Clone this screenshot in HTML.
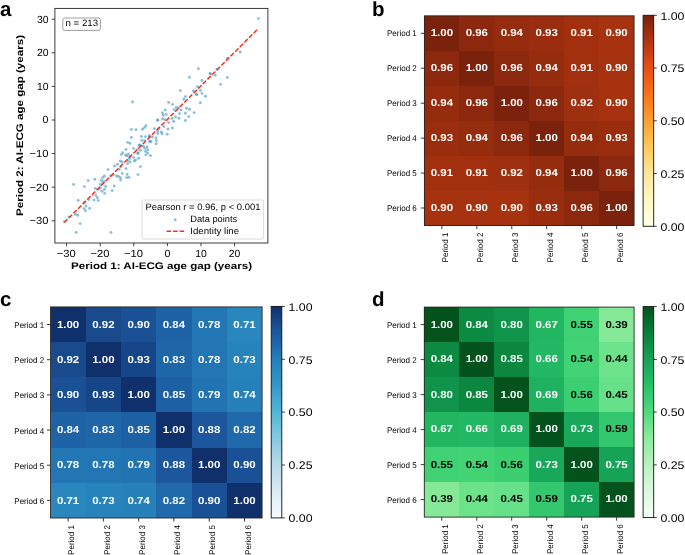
<!DOCTYPE html>
<html><head><meta charset="utf-8"><title>figure</title>
<style>
html,body{margin:0;padding:0;background:#fff;}
body{width:685px;height:555px;overflow:hidden;}
svg{display:block;font-family:"Liberation Sans",sans-serif;will-change:transform;text-rendering:geometricPrecision;}
</style></head><body>
<svg width="685" height="555" viewBox="0 0 685 555">
<rect width="685" height="555" fill="#fff"/>
<text x="0" y="15.6" font-size="20.5" font-weight="bold">a</text>
<text x="372" y="15.6" font-size="20.5" font-weight="bold">b</text>
<text x="0" y="306.4" font-size="20.5" font-weight="bold">c</text>
<text x="372" y="306.2" font-size="20.5" font-weight="bold">d</text>
<g fill="#3f97c6" fill-opacity="0.62">
<circle cx="258.4" cy="18.6" r="1.45"/>
<circle cx="240.2" cy="52.0" r="1.45"/>
<circle cx="227.6" cy="58.2" r="1.45"/>
<circle cx="227.4" cy="77.4" r="1.45"/>
<circle cx="220.6" cy="84.4" r="1.45"/>
<circle cx="198.4" cy="68.8" r="1.45"/>
<circle cx="189.4" cy="77.2" r="1.45"/>
<circle cx="210.4" cy="73.4" r="1.45"/>
<circle cx="215.2" cy="75.2" r="1.45"/>
<circle cx="217.0" cy="69.2" r="1.45"/>
<circle cx="202.0" cy="80.4" r="1.45"/>
<circle cx="197.4" cy="86.6" r="1.45"/>
<circle cx="180.4" cy="90.6" r="1.45"/>
<circle cx="193.4" cy="91.0" r="1.45"/>
<circle cx="200.6" cy="90.4" r="1.45"/>
<circle cx="196.4" cy="94.4" r="1.45"/>
<circle cx="202.0" cy="93.6" r="1.45"/>
<circle cx="205.6" cy="96.2" r="1.45"/>
<circle cx="185.4" cy="96.6" r="1.45"/>
<circle cx="183.8" cy="99.2" r="1.45"/>
<circle cx="168.6" cy="102.4" r="1.45"/>
<circle cx="172.6" cy="104.4" r="1.45"/>
<circle cx="200.4" cy="102.8" r="1.45"/>
<circle cx="176.2" cy="107.4" r="1.45"/>
<circle cx="186.6" cy="108.2" r="1.45"/>
<circle cx="189.6" cy="109.2" r="1.45"/>
<circle cx="165.2" cy="110.0" r="1.45"/>
<circle cx="174.2" cy="109.6" r="1.45"/>
<circle cx="181.0" cy="110.0" r="1.45"/>
<circle cx="178.4" cy="108.0" r="1.45"/>
<circle cx="194.2" cy="112.6" r="1.45"/>
<circle cx="162.4" cy="113.0" r="1.45"/>
<circle cx="166.2" cy="114.4" r="1.45"/>
<circle cx="163.2" cy="115.2" r="1.45"/>
<circle cx="179.6" cy="113.6" r="1.45"/>
<circle cx="185.4" cy="113.2" r="1.45"/>
<circle cx="188.8" cy="116.6" r="1.45"/>
<circle cx="175.6" cy="117.0" r="1.45"/>
<circle cx="179.0" cy="118.2" r="1.45"/>
<circle cx="172.2" cy="118.4" r="1.45"/>
<circle cx="162.6" cy="119.0" r="1.45"/>
<circle cx="165.0" cy="119.6" r="1.45"/>
<circle cx="157.6" cy="120.0" r="1.45"/>
<circle cx="185.4" cy="120.4" r="1.45"/>
<circle cx="173.6" cy="121.2" r="1.45"/>
<circle cx="168.6" cy="122.6" r="1.45"/>
<circle cx="146.0" cy="125.6" r="1.45"/>
<circle cx="144.6" cy="127.4" r="1.45"/>
<circle cx="142.6" cy="129.2" r="1.45"/>
<circle cx="154.4" cy="128.6" r="1.45"/>
<circle cx="164.0" cy="126.6" r="1.45"/>
<circle cx="172.4" cy="128.0" r="1.45"/>
<circle cx="168.0" cy="129.0" r="1.45"/>
<circle cx="159.0" cy="128.4" r="1.45"/>
<circle cx="157.6" cy="131.0" r="1.45"/>
<circle cx="161.4" cy="132.0" r="1.45"/>
<circle cx="157.8" cy="133.4" r="1.45"/>
<circle cx="162.0" cy="133.8" r="1.45"/>
<circle cx="167.2" cy="134.2" r="1.45"/>
<circle cx="141.4" cy="136.4" r="1.45"/>
<circle cx="145.4" cy="136.6" r="1.45"/>
<circle cx="149.4" cy="135.6" r="1.45"/>
<circle cx="152.4" cy="137.0" r="1.45"/>
<circle cx="156.0" cy="138.0" r="1.45"/>
<circle cx="141.8" cy="140.4" r="1.45"/>
<circle cx="144.6" cy="140.6" r="1.45"/>
<circle cx="156.4" cy="140.6" r="1.45"/>
<circle cx="149.6" cy="141.6" r="1.45"/>
<circle cx="156.2" cy="143.8" r="1.45"/>
<circle cx="139.4" cy="145.2" r="1.45"/>
<circle cx="141.4" cy="146.0" r="1.45"/>
<circle cx="140.4" cy="150.4" r="1.45"/>
<circle cx="138.0" cy="153.2" r="1.45"/>
<circle cx="150.4" cy="155.6" r="1.45"/>
<circle cx="138.6" cy="158.2" r="1.45"/>
<circle cx="140.4" cy="166.6" r="1.45"/>
<circle cx="138.0" cy="174.6" r="1.45"/>
<circle cx="64.4" cy="221.6" r="1.45"/>
<circle cx="69.0" cy="217.0" r="1.45"/>
<circle cx="76.2" cy="232.4" r="1.45"/>
<circle cx="111.0" cy="232.4" r="1.45"/>
<circle cx="80.2" cy="223.6" r="1.45"/>
<circle cx="77.8" cy="215.4" r="1.45"/>
<circle cx="75.4" cy="214.4" r="1.45"/>
<circle cx="85.4" cy="210.8" r="1.45"/>
<circle cx="84.0" cy="208.6" r="1.45"/>
<circle cx="89.6" cy="208.4" r="1.45"/>
<circle cx="86.0" cy="206.0" r="1.45"/>
<circle cx="84.4" cy="202.4" r="1.45"/>
<circle cx="78.2" cy="200.4" r="1.45"/>
<circle cx="88.6" cy="199.6" r="1.45"/>
<circle cx="94.0" cy="200.0" r="1.45"/>
<circle cx="98.2" cy="200.6" r="1.45"/>
<circle cx="97.4" cy="197.8" r="1.45"/>
<circle cx="95.8" cy="195.4" r="1.45"/>
<circle cx="73.6" cy="184.4" r="1.45"/>
<circle cx="84.4" cy="186.6" r="1.45"/>
<circle cx="88.2" cy="180.6" r="1.45"/>
<circle cx="94.8" cy="179.2" r="1.45"/>
<circle cx="95.4" cy="188.4" r="1.45"/>
<circle cx="99.0" cy="189.2" r="1.45"/>
<circle cx="100.4" cy="187.6" r="1.45"/>
<circle cx="104.4" cy="189.4" r="1.45"/>
<circle cx="105.6" cy="186.4" r="1.45"/>
<circle cx="102.0" cy="191.2" r="1.45"/>
<circle cx="104.6" cy="193.4" r="1.45"/>
<circle cx="112.2" cy="190.6" r="1.45"/>
<circle cx="114.2" cy="186.0" r="1.45"/>
<circle cx="100.4" cy="184.4" r="1.45"/>
<circle cx="102.6" cy="182.6" r="1.45"/>
<circle cx="104.4" cy="181.4" r="1.45"/>
<circle cx="101.4" cy="180.2" r="1.45"/>
<circle cx="102.6" cy="177.6" r="1.45"/>
<circle cx="104.4" cy="176.0" r="1.45"/>
<circle cx="108.0" cy="169.6" r="1.45"/>
<circle cx="110.6" cy="176.0" r="1.45"/>
<circle cx="113.4" cy="175.0" r="1.45"/>
<circle cx="116.6" cy="176.0" r="1.45"/>
<circle cx="118.4" cy="176.4" r="1.45"/>
<circle cx="120.4" cy="177.6" r="1.45"/>
<circle cx="120.6" cy="180.0" r="1.45"/>
<circle cx="126.6" cy="177.6" r="1.45"/>
<circle cx="129.0" cy="177.4" r="1.45"/>
<circle cx="122.2" cy="173.4" r="1.45"/>
<circle cx="127.2" cy="174.4" r="1.45"/>
<circle cx="119.2" cy="169.4" r="1.45"/>
<circle cx="126.0" cy="168.6" r="1.45"/>
<circle cx="114.6" cy="166.0" r="1.45"/>
<circle cx="117.6" cy="164.2" r="1.45"/>
<circle cx="120.2" cy="161.0" r="1.45"/>
<circle cx="122.0" cy="162.0" r="1.45"/>
<circle cx="121.0" cy="166.4" r="1.45"/>
<circle cx="127.6" cy="163.6" r="1.45"/>
<circle cx="130.0" cy="162.0" r="1.45"/>
<circle cx="127.6" cy="160.6" r="1.45"/>
<circle cx="129.6" cy="158.6" r="1.45"/>
<circle cx="134.4" cy="161.0" r="1.45"/>
<circle cx="135.6" cy="160.0" r="1.45"/>
<circle cx="121.4" cy="154.4" r="1.45"/>
<circle cx="122.8" cy="152.6" r="1.45"/>
<circle cx="125.6" cy="155.0" r="1.45"/>
<circle cx="127.0" cy="156.0" r="1.45"/>
<circle cx="128.4" cy="154.0" r="1.45"/>
<circle cx="126.0" cy="149.4" r="1.45"/>
<circle cx="127.6" cy="142.4" r="1.45"/>
<circle cx="130.0" cy="143.4" r="1.45"/>
<circle cx="131.4" cy="137.4" r="1.45"/>
<circle cx="133.6" cy="148.6" r="1.45"/>
<circle cx="137.0" cy="150.0" r="1.45"/>
<circle cx="149.4" cy="137.0" r="1.45"/>
<circle cx="151.0" cy="141.6" r="1.45"/>
<circle cx="132.6" cy="102.0" r="1.45"/>
<circle cx="131.4" cy="129.4" r="1.45"/>
<circle cx="136.0" cy="129.8" r="1.45"/>
<circle cx="130.0" cy="156.4" r="1.45"/>
<circle cx="133.6" cy="157.4" r="1.45"/>
<circle cx="143.4" cy="146.2" r="1.45"/>
<circle cx="146.9" cy="147.0" r="1.45"/>
<circle cx="144.7" cy="148.4" r="1.45"/>
<circle cx="147.7" cy="149.7" r="1.45"/>
<circle cx="145.5" cy="151.4" r="1.45"/>
<circle cx="147.7" cy="153.0" r="1.45"/>
<circle cx="145.8" cy="154.9" r="1.45"/>
<circle cx="150.1" cy="141.4" r="1.45"/>
<circle cx="137.9" cy="153.2" r="1.45"/>
<circle cx="139.3" cy="144.9" r="1.45"/>
<circle cx="210.0" cy="73.9" r="1.45"/>
<circle cx="196.8" cy="94.6" r="1.45"/>
<circle cx="157.8" cy="120.2" r="1.45"/>
</g>
<line x1="64.2" y1="222.6" x2="257.4" y2="29.4" stroke="#ff2a1a" stroke-width="1.45" stroke-dasharray="4.7 1.834"/>
<rect x="54.9" y="8.4" width="212.99999999999997" height="234.6" fill="none" stroke="#262626" stroke-width="0.9"/>
<line x1="66.6" y1="243.0" x2="66.6" y2="246.2" stroke="#262626" stroke-width="0.9"/>
<text x="66.3" y="257.2" font-size="10.3" text-anchor="middle" textLength="19.0" lengthAdjust="spacingAndGlyphs">−30</text>
<line x1="100.2" y1="243.0" x2="100.2" y2="246.2" stroke="#262626" stroke-width="0.9"/>
<text x="99.9" y="257.2" font-size="10.3" text-anchor="middle" textLength="19.0" lengthAdjust="spacingAndGlyphs">−20</text>
<line x1="133.8" y1="243.0" x2="133.8" y2="246.2" stroke="#262626" stroke-width="0.9"/>
<text x="133.5" y="257.2" font-size="10.3" text-anchor="middle" textLength="19.0" lengthAdjust="spacingAndGlyphs">−10</text>
<line x1="167.4" y1="243.0" x2="167.4" y2="246.2" stroke="#262626" stroke-width="0.9"/>
<text x="167.4" y="257.2" font-size="10.3" text-anchor="middle" textLength="5.9" lengthAdjust="spacingAndGlyphs">0</text>
<line x1="201.0" y1="243.0" x2="201.0" y2="246.2" stroke="#262626" stroke-width="0.9"/>
<text x="201.0" y="257.2" font-size="10.3" text-anchor="middle" textLength="11.6" lengthAdjust="spacingAndGlyphs">10</text>
<line x1="234.6" y1="243.0" x2="234.6" y2="246.2" stroke="#262626" stroke-width="0.9"/>
<text x="234.6" y="257.2" font-size="10.3" text-anchor="middle" textLength="11.6" lengthAdjust="spacingAndGlyphs">20</text>
<line x1="51.8" y1="220.8" x2="54.9" y2="220.8" stroke="#262626" stroke-width="0.9"/>
<text x="48.5" y="224" font-size="10.3" text-anchor="end" textLength="19.0" lengthAdjust="spacingAndGlyphs">−30</text>
<line x1="51.8" y1="187.2" x2="54.9" y2="187.2" stroke="#262626" stroke-width="0.9"/>
<text x="48.5" y="191" font-size="10.3" text-anchor="end" textLength="19.0" lengthAdjust="spacingAndGlyphs">−20</text>
<line x1="51.8" y1="153.6" x2="54.9" y2="153.6" stroke="#262626" stroke-width="0.9"/>
<text x="48.5" y="157" font-size="10.3" text-anchor="end" textLength="19.0" lengthAdjust="spacingAndGlyphs">−10</text>
<line x1="51.8" y1="120.0" x2="54.9" y2="120.0" stroke="#262626" stroke-width="0.9"/>
<text x="48.5" y="123" font-size="10.3" text-anchor="end" textLength="5.9" lengthAdjust="spacingAndGlyphs">0</text>
<line x1="51.8" y1="86.4" x2="54.9" y2="86.4" stroke="#262626" stroke-width="0.9"/>
<text x="48.5" y="90" font-size="10.3" text-anchor="end" textLength="11.6" lengthAdjust="spacingAndGlyphs">10</text>
<line x1="51.8" y1="52.8" x2="54.9" y2="52.8" stroke="#262626" stroke-width="0.9"/>
<text x="48.5" y="56" font-size="10.3" text-anchor="end" textLength="11.6" lengthAdjust="spacingAndGlyphs">20</text>
<line x1="51.8" y1="19.2" x2="54.9" y2="19.2" stroke="#262626" stroke-width="0.9"/>
<text x="48.5" y="23" font-size="10.3" text-anchor="end" textLength="11.6" lengthAdjust="spacingAndGlyphs">30</text>
<text x="161.5" y="269.2" font-size="9.6" font-weight="bold" text-anchor="middle" textLength="181" lengthAdjust="spacingAndGlyphs">Period 1: AI-ECG age gap (years)</text>
<text x="0" y="0" font-size="9.6" font-weight="bold" text-anchor="middle" textLength="181" lengthAdjust="spacingAndGlyphs" transform="translate(22.6 125.5) rotate(-90)">Period 2: AI-ECG age gap (years)</text>
<rect x="62.8" y="18" width="37.6" height="12.4" rx="1.8" fill="#fff" stroke="#858585" stroke-width="0.8"/>
<text x="65.5" y="26.4" font-size="9.2" textLength="32.6" lengthAdjust="spacingAndGlyphs">n = 213</text>
<rect x="142" y="200" width="121.6" height="39" rx="1.6" fill="#fff" fill-opacity="0.8" stroke="#d0d0d0" stroke-width="0.8"/>
<text x="145.5" y="210" font-size="9.2" textLength="115" lengthAdjust="spacingAndGlyphs">Pearson r = 0.96, p &lt; 0.001</text>
<circle cx="175.2" cy="219.8" r="1.45" fill="#3f97c6" fill-opacity="0.62"/>
<text x="190.3" y="222" font-size="9.2" textLength="46.8" lengthAdjust="spacingAndGlyphs">Data points</text>
<line x1="166.6" y1="231.2" x2="184.2" y2="231.2" stroke="#ff2a1a" stroke-width="1.45" stroke-dasharray="4.55 1.95"/>
<text x="190.3" y="234" font-size="9.2" textLength="48.8" lengthAdjust="spacingAndGlyphs">Identity line</text>
<g shape-rendering="crispEdges">
<rect x="424.40" y="15.80" width="35.25" height="35.25" fill="#7a220b"/>
<rect x="459.35" y="15.80" width="35.25" height="35.25" fill="#8c280d"/>
<rect x="494.30" y="15.80" width="35.25" height="35.25" fill="#952c0e"/>
<rect x="529.25" y="15.80" width="35.25" height="35.25" fill="#992d0e"/>
<rect x="564.20" y="15.80" width="35.25" height="35.25" fill="#a2300f"/>
<rect x="599.15" y="15.80" width="35.25" height="35.25" fill="#a73210"/>
<rect x="424.40" y="50.75" width="35.25" height="35.25" fill="#8c280d"/>
<rect x="459.35" y="50.75" width="35.25" height="35.25" fill="#7a220b"/>
<rect x="494.30" y="50.75" width="35.25" height="35.25" fill="#8c280d"/>
<rect x="529.25" y="50.75" width="35.25" height="35.25" fill="#952c0e"/>
<rect x="564.20" y="50.75" width="35.25" height="35.25" fill="#a2300f"/>
<rect x="599.15" y="50.75" width="35.25" height="35.25" fill="#a73210"/>
<rect x="424.40" y="85.70" width="35.25" height="35.25" fill="#952c0e"/>
<rect x="459.35" y="85.70" width="35.25" height="35.25" fill="#8c280d"/>
<rect x="494.30" y="85.70" width="35.25" height="35.25" fill="#7a220b"/>
<rect x="529.25" y="85.70" width="35.25" height="35.25" fill="#8c280d"/>
<rect x="564.20" y="85.70" width="35.25" height="35.25" fill="#9e2f0f"/>
<rect x="599.15" y="85.70" width="35.25" height="35.25" fill="#a73210"/>
<rect x="424.40" y="120.65" width="35.25" height="35.25" fill="#992d0e"/>
<rect x="459.35" y="120.65" width="35.25" height="35.25" fill="#952c0e"/>
<rect x="494.30" y="120.65" width="35.25" height="35.25" fill="#8c280d"/>
<rect x="529.25" y="120.65" width="35.25" height="35.25" fill="#7a220b"/>
<rect x="564.20" y="120.65" width="35.25" height="35.25" fill="#952c0e"/>
<rect x="599.15" y="120.65" width="35.25" height="35.25" fill="#992d0e"/>
<rect x="424.40" y="155.60" width="35.25" height="35.25" fill="#a2300f"/>
<rect x="459.35" y="155.60" width="35.25" height="35.25" fill="#a2300f"/>
<rect x="494.30" y="155.60" width="35.25" height="35.25" fill="#9e2f0f"/>
<rect x="529.25" y="155.60" width="35.25" height="35.25" fill="#952c0e"/>
<rect x="564.20" y="155.60" width="35.25" height="35.25" fill="#7a220b"/>
<rect x="599.15" y="155.60" width="35.25" height="35.25" fill="#8c280d"/>
<rect x="424.40" y="190.55" width="35.25" height="35.25" fill="#a73210"/>
<rect x="459.35" y="190.55" width="35.25" height="35.25" fill="#a73210"/>
<rect x="494.30" y="190.55" width="35.25" height="35.25" fill="#a73210"/>
<rect x="529.25" y="190.55" width="35.25" height="35.25" fill="#992d0e"/>
<rect x="564.20" y="190.55" width="35.25" height="35.25" fill="#8c280d"/>
<rect x="599.15" y="190.55" width="35.25" height="35.25" fill="#7a220b"/>
</g>
<g font-weight="bold" font-size="10.1" text-anchor="middle">
<text x="441.9" y="36" fill="#fff" textLength="22.3" lengthAdjust="spacingAndGlyphs">1.00</text>
<text x="476.8" y="36" fill="#fff" textLength="22.3" lengthAdjust="spacingAndGlyphs">0.96</text>
<text x="511.8" y="36" fill="#fff" textLength="22.3" lengthAdjust="spacingAndGlyphs">0.94</text>
<text x="546.7" y="36" fill="#fff" textLength="22.3" lengthAdjust="spacingAndGlyphs">0.93</text>
<text x="581.7" y="36" fill="#fff" textLength="22.3" lengthAdjust="spacingAndGlyphs">0.91</text>
<text x="616.6" y="36" fill="#fff" textLength="22.3" lengthAdjust="spacingAndGlyphs">0.90</text>
<text x="441.9" y="71" fill="#fff" textLength="22.3" lengthAdjust="spacingAndGlyphs">0.96</text>
<text x="476.8" y="71" fill="#fff" textLength="22.3" lengthAdjust="spacingAndGlyphs">1.00</text>
<text x="511.8" y="71" fill="#fff" textLength="22.3" lengthAdjust="spacingAndGlyphs">0.96</text>
<text x="546.7" y="71" fill="#fff" textLength="22.3" lengthAdjust="spacingAndGlyphs">0.94</text>
<text x="581.7" y="71" fill="#fff" textLength="22.3" lengthAdjust="spacingAndGlyphs">0.91</text>
<text x="616.6" y="71" fill="#fff" textLength="22.3" lengthAdjust="spacingAndGlyphs">0.90</text>
<text x="441.9" y="106" fill="#fff" textLength="22.3" lengthAdjust="spacingAndGlyphs">0.94</text>
<text x="476.8" y="106" fill="#fff" textLength="22.3" lengthAdjust="spacingAndGlyphs">0.96</text>
<text x="511.8" y="106" fill="#fff" textLength="22.3" lengthAdjust="spacingAndGlyphs">1.00</text>
<text x="546.7" y="106" fill="#fff" textLength="22.3" lengthAdjust="spacingAndGlyphs">0.96</text>
<text x="581.7" y="106" fill="#fff" textLength="22.3" lengthAdjust="spacingAndGlyphs">0.92</text>
<text x="616.6" y="106" fill="#fff" textLength="22.3" lengthAdjust="spacingAndGlyphs">0.90</text>
<text x="441.9" y="141" fill="#fff" textLength="22.3" lengthAdjust="spacingAndGlyphs">0.93</text>
<text x="476.8" y="141" fill="#fff" textLength="22.3" lengthAdjust="spacingAndGlyphs">0.94</text>
<text x="511.8" y="141" fill="#fff" textLength="22.3" lengthAdjust="spacingAndGlyphs">0.96</text>
<text x="546.7" y="141" fill="#fff" textLength="22.3" lengthAdjust="spacingAndGlyphs">1.00</text>
<text x="581.7" y="141" fill="#fff" textLength="22.3" lengthAdjust="spacingAndGlyphs">0.94</text>
<text x="616.6" y="141" fill="#fff" textLength="22.3" lengthAdjust="spacingAndGlyphs">0.93</text>
<text x="441.9" y="176" fill="#fff" textLength="22.3" lengthAdjust="spacingAndGlyphs">0.91</text>
<text x="476.8" y="176" fill="#fff" textLength="22.3" lengthAdjust="spacingAndGlyphs">0.91</text>
<text x="511.8" y="176" fill="#fff" textLength="22.3" lengthAdjust="spacingAndGlyphs">0.92</text>
<text x="546.7" y="176" fill="#fff" textLength="22.3" lengthAdjust="spacingAndGlyphs">0.94</text>
<text x="581.7" y="176" fill="#fff" textLength="22.3" lengthAdjust="spacingAndGlyphs">1.00</text>
<text x="616.6" y="176" fill="#fff" textLength="22.3" lengthAdjust="spacingAndGlyphs">0.96</text>
<text x="441.9" y="211" fill="#fff" textLength="22.3" lengthAdjust="spacingAndGlyphs">0.90</text>
<text x="476.8" y="211" fill="#fff" textLength="22.3" lengthAdjust="spacingAndGlyphs">0.90</text>
<text x="511.8" y="211" fill="#fff" textLength="22.3" lengthAdjust="spacingAndGlyphs">0.90</text>
<text x="546.7" y="211" fill="#fff" textLength="22.3" lengthAdjust="spacingAndGlyphs">0.93</text>
<text x="581.7" y="211" fill="#fff" textLength="22.3" lengthAdjust="spacingAndGlyphs">0.96</text>
<text x="616.6" y="211" fill="#fff" textLength="22.3" lengthAdjust="spacingAndGlyphs">1.00</text>
</g>
<rect x="424.4" y="15.8" width="209.70000000000005" height="209.7" fill="none" stroke="#262626" stroke-width="0.9"/>
<line x1="420.79999999999995" y1="33.3" x2="424.4" y2="33.3" stroke="#262626" stroke-width="0.9"/>
<line x1="441.9" y1="225.5" x2="441.9" y2="229.1" stroke="#262626" stroke-width="0.9"/>
<text x="416.8" y="36" font-size="8.3" text-anchor="end" textLength="29.8" lengthAdjust="spacingAndGlyphs">Period 1</text>
<text x="0" y="0" font-size="8.3" textLength="29.8" lengthAdjust="spacingAndGlyphs" transform="translate(448.0 262.4) rotate(-90)">Period 1</text>
<line x1="420.79999999999995" y1="68.2" x2="424.4" y2="68.2" stroke="#262626" stroke-width="0.9"/>
<line x1="476.8" y1="225.5" x2="476.8" y2="229.1" stroke="#262626" stroke-width="0.9"/>
<text x="416.8" y="71" font-size="8.3" text-anchor="end" textLength="29.8" lengthAdjust="spacingAndGlyphs">Period 2</text>
<text x="0" y="0" font-size="8.3" textLength="29.8" lengthAdjust="spacingAndGlyphs" transform="translate(482.9 262.4) rotate(-90)">Period 2</text>
<line x1="420.79999999999995" y1="103.2" x2="424.4" y2="103.2" stroke="#262626" stroke-width="0.9"/>
<line x1="511.8" y1="225.5" x2="511.8" y2="229.1" stroke="#262626" stroke-width="0.9"/>
<text x="416.8" y="106" font-size="8.3" text-anchor="end" textLength="29.8" lengthAdjust="spacingAndGlyphs">Period 3</text>
<text x="0" y="0" font-size="8.3" textLength="29.8" lengthAdjust="spacingAndGlyphs" transform="translate(517.9 262.4) rotate(-90)">Period 3</text>
<line x1="420.79999999999995" y1="138.1" x2="424.4" y2="138.1" stroke="#262626" stroke-width="0.9"/>
<line x1="546.7" y1="225.5" x2="546.7" y2="229.1" stroke="#262626" stroke-width="0.9"/>
<text x="416.8" y="141" font-size="8.3" text-anchor="end" textLength="29.8" lengthAdjust="spacingAndGlyphs">Period 4</text>
<text x="0" y="0" font-size="8.3" textLength="29.8" lengthAdjust="spacingAndGlyphs" transform="translate(552.8 262.4) rotate(-90)">Period 4</text>
<line x1="420.79999999999995" y1="173.1" x2="424.4" y2="173.1" stroke="#262626" stroke-width="0.9"/>
<line x1="581.7" y1="225.5" x2="581.7" y2="229.1" stroke="#262626" stroke-width="0.9"/>
<text x="416.8" y="176" font-size="8.3" text-anchor="end" textLength="29.8" lengthAdjust="spacingAndGlyphs">Period 5</text>
<text x="0" y="0" font-size="8.3" textLength="29.8" lengthAdjust="spacingAndGlyphs" transform="translate(587.8 262.4) rotate(-90)">Period 5</text>
<line x1="420.79999999999995" y1="208.0" x2="424.4" y2="208.0" stroke="#262626" stroke-width="0.9"/>
<line x1="616.6" y1="225.5" x2="616.6" y2="229.1" stroke="#262626" stroke-width="0.9"/>
<text x="416.8" y="211" font-size="8.3" text-anchor="end" textLength="29.8" lengthAdjust="spacingAndGlyphs">Period 6</text>
<text x="0" y="0" font-size="8.3" textLength="29.8" lengthAdjust="spacingAndGlyphs" transform="translate(622.7 262.4) rotate(-90)">Period 6</text>
<defs><linearGradient id="gb" x1="0" y1="1" x2="0" y2="0">
<stop offset="0.0000" stop-color="#ffffe5"/>
<stop offset="0.0312" stop-color="#fffddd"/>
<stop offset="0.0625" stop-color="#fffcd4"/>
<stop offset="0.0938" stop-color="#fffacc"/>
<stop offset="0.1250" stop-color="#fff8c4"/>
<stop offset="0.1562" stop-color="#fff4ba"/>
<stop offset="0.1875" stop-color="#fef0b0"/>
<stop offset="0.2188" stop-color="#feeba5"/>
<stop offset="0.2500" stop-color="#fee79b"/>
<stop offset="0.2812" stop-color="#fee08b"/>
<stop offset="0.3125" stop-color="#fed87a"/>
<stop offset="0.3438" stop-color="#fed06a"/>
<stop offset="0.3750" stop-color="#fec95a"/>
<stop offset="0.4062" stop-color="#febe50"/>
<stop offset="0.4375" stop-color="#feb445"/>
<stop offset="0.4688" stop-color="#fdaa3a"/>
<stop offset="0.5000" stop-color="#fd9f30"/>
<stop offset="0.5312" stop-color="#fc942b"/>
<stop offset="0.5625" stop-color="#fb8826"/>
<stop offset="0.5938" stop-color="#fa7d20"/>
<stop offset="0.6250" stop-color="#f9721b"/>
<stop offset="0.6562" stop-color="#f4691a"/>
<stop offset="0.6875" stop-color="#f06018"/>
<stop offset="0.7188" stop-color="#eb5816"/>
<stop offset="0.7500" stop-color="#e64f15"/>
<stop offset="0.7812" stop-color="#d94914"/>
<stop offset="0.8125" stop-color="#cc4213"/>
<stop offset="0.8438" stop-color="#bf3c12"/>
<stop offset="0.8750" stop-color="#b23611"/>
<stop offset="0.9062" stop-color="#a43110"/>
<stop offset="0.9375" stop-color="#962c0e"/>
<stop offset="0.9688" stop-color="#88270c"/>
<stop offset="1.0000" stop-color="#7a220b"/>
</linearGradient></defs>
<rect x="643.1" y="15.3" width="10.6" height="211.0" fill="url(#gb)" stroke="#111" stroke-width="0.9"/>
<line x1="653.7" y1="226.3" x2="656.8000000000001" y2="226.3" stroke="#262626" stroke-width="0.9"/>
<text x="660.4" y="231" font-size="11.1" textLength="24.0" lengthAdjust="spacingAndGlyphs">0.00</text>
<line x1="653.7" y1="173.6" x2="656.8000000000001" y2="173.6" stroke="#262626" stroke-width="0.9"/>
<text x="660.4" y="178" font-size="11.1" textLength="24.0" lengthAdjust="spacingAndGlyphs">0.25</text>
<line x1="653.7" y1="120.8" x2="656.8000000000001" y2="120.8" stroke="#262626" stroke-width="0.9"/>
<text x="660.4" y="125" font-size="11.1" textLength="24.0" lengthAdjust="spacingAndGlyphs">0.50</text>
<line x1="653.7" y1="68.1" x2="656.8000000000001" y2="68.1" stroke="#262626" stroke-width="0.9"/>
<text x="660.4" y="72" font-size="11.1" textLength="24.0" lengthAdjust="spacingAndGlyphs">0.75</text>
<line x1="653.7" y1="15.3" x2="656.8000000000001" y2="15.3" stroke="#262626" stroke-width="0.9"/>
<text x="660.4" y="20" font-size="11.1" textLength="24.0" lengthAdjust="spacingAndGlyphs">1.00</text>
<g shape-rendering="crispEdges">
<rect x="50.50" y="306.90" width="35.57" height="35.48" fill="#10306b"/>
<rect x="85.77" y="306.90" width="35.57" height="35.48" fill="#184a8c"/>
<rect x="121.03" y="306.90" width="35.57" height="35.48" fill="#1a5095"/>
<rect x="156.30" y="306.90" width="35.57" height="35.48" fill="#1f63a7"/>
<rect x="191.57" y="306.90" width="35.57" height="35.48" fill="#2376b4"/>
<rect x="226.83" y="306.90" width="35.57" height="35.48" fill="#2987be"/>
<rect x="50.50" y="342.08" width="35.57" height="35.48" fill="#184a8c"/>
<rect x="85.77" y="342.08" width="35.57" height="35.48" fill="#10306b"/>
<rect x="121.03" y="342.08" width="35.57" height="35.48" fill="#174688"/>
<rect x="156.30" y="342.08" width="35.57" height="35.48" fill="#1f66a9"/>
<rect x="191.57" y="342.08" width="35.57" height="35.48" fill="#2376b4"/>
<rect x="226.83" y="342.08" width="35.57" height="35.48" fill="#2783bc"/>
<rect x="50.50" y="377.27" width="35.57" height="35.48" fill="#1a5095"/>
<rect x="85.77" y="377.27" width="35.57" height="35.48" fill="#174688"/>
<rect x="121.03" y="377.27" width="35.57" height="35.48" fill="#10306b"/>
<rect x="156.30" y="377.27" width="35.57" height="35.48" fill="#1e60a4"/>
<rect x="191.57" y="377.27" width="35.57" height="35.48" fill="#2273b1"/>
<rect x="226.83" y="377.27" width="35.57" height="35.48" fill="#2681bb"/>
<rect x="50.50" y="412.45" width="35.57" height="35.48" fill="#1f63a7"/>
<rect x="85.77" y="412.45" width="35.57" height="35.48" fill="#1f66a9"/>
<rect x="121.03" y="412.45" width="35.57" height="35.48" fill="#1e60a4"/>
<rect x="156.30" y="412.45" width="35.57" height="35.48" fill="#10306b"/>
<rect x="191.57" y="412.45" width="35.57" height="35.48" fill="#1c569d"/>
<rect x="226.83" y="412.45" width="35.57" height="35.48" fill="#2069ab"/>
<rect x="50.50" y="447.63" width="35.57" height="35.48" fill="#2376b4"/>
<rect x="85.77" y="447.63" width="35.57" height="35.48" fill="#2376b4"/>
<rect x="121.03" y="447.63" width="35.57" height="35.48" fill="#2273b1"/>
<rect x="156.30" y="447.63" width="35.57" height="35.48" fill="#1c569d"/>
<rect x="191.57" y="447.63" width="35.57" height="35.48" fill="#10306b"/>
<rect x="226.83" y="447.63" width="35.57" height="35.48" fill="#1a5095"/>
<rect x="50.50" y="482.82" width="35.57" height="35.48" fill="#2987be"/>
<rect x="85.77" y="482.82" width="35.57" height="35.48" fill="#2783bc"/>
<rect x="121.03" y="482.82" width="35.57" height="35.48" fill="#2681bb"/>
<rect x="156.30" y="482.82" width="35.57" height="35.48" fill="#2069ab"/>
<rect x="191.57" y="482.82" width="35.57" height="35.48" fill="#1a5095"/>
<rect x="226.83" y="482.82" width="35.57" height="35.48" fill="#10306b"/>
</g>
<g font-weight="bold" font-size="10.1" text-anchor="middle">
<text x="68.1" y="328" fill="#fff" textLength="22.3" lengthAdjust="spacingAndGlyphs">1.00</text>
<text x="103.4" y="328" fill="#fff" textLength="22.3" lengthAdjust="spacingAndGlyphs">0.92</text>
<text x="138.7" y="328" fill="#fff" textLength="22.3" lengthAdjust="spacingAndGlyphs">0.90</text>
<text x="173.9" y="328" fill="#fff" textLength="22.3" lengthAdjust="spacingAndGlyphs">0.84</text>
<text x="209.2" y="328" fill="#fff" textLength="22.3" lengthAdjust="spacingAndGlyphs">0.78</text>
<text x="244.5" y="328" fill="#fff" textLength="22.3" lengthAdjust="spacingAndGlyphs">0.71</text>
<text x="68.1" y="363" fill="#fff" textLength="22.3" lengthAdjust="spacingAndGlyphs">0.92</text>
<text x="103.4" y="363" fill="#fff" textLength="22.3" lengthAdjust="spacingAndGlyphs">1.00</text>
<text x="138.7" y="363" fill="#fff" textLength="22.3" lengthAdjust="spacingAndGlyphs">0.93</text>
<text x="173.9" y="363" fill="#fff" textLength="22.3" lengthAdjust="spacingAndGlyphs">0.83</text>
<text x="209.2" y="363" fill="#fff" textLength="22.3" lengthAdjust="spacingAndGlyphs">0.78</text>
<text x="244.5" y="363" fill="#fff" textLength="22.3" lengthAdjust="spacingAndGlyphs">0.73</text>
<text x="68.1" y="398" fill="#fff" textLength="22.3" lengthAdjust="spacingAndGlyphs">0.90</text>
<text x="103.4" y="398" fill="#fff" textLength="22.3" lengthAdjust="spacingAndGlyphs">0.93</text>
<text x="138.7" y="398" fill="#fff" textLength="22.3" lengthAdjust="spacingAndGlyphs">1.00</text>
<text x="173.9" y="398" fill="#fff" textLength="22.3" lengthAdjust="spacingAndGlyphs">0.85</text>
<text x="209.2" y="398" fill="#fff" textLength="22.3" lengthAdjust="spacingAndGlyphs">0.79</text>
<text x="244.5" y="398" fill="#fff" textLength="22.3" lengthAdjust="spacingAndGlyphs">0.74</text>
<text x="68.1" y="433" fill="#fff" textLength="22.3" lengthAdjust="spacingAndGlyphs">0.84</text>
<text x="103.4" y="433" fill="#fff" textLength="22.3" lengthAdjust="spacingAndGlyphs">0.83</text>
<text x="138.7" y="433" fill="#fff" textLength="22.3" lengthAdjust="spacingAndGlyphs">0.85</text>
<text x="173.9" y="433" fill="#fff" textLength="22.3" lengthAdjust="spacingAndGlyphs">1.00</text>
<text x="209.2" y="433" fill="#fff" textLength="22.3" lengthAdjust="spacingAndGlyphs">0.88</text>
<text x="244.5" y="433" fill="#fff" textLength="22.3" lengthAdjust="spacingAndGlyphs">0.82</text>
<text x="68.1" y="468" fill="#fff" textLength="22.3" lengthAdjust="spacingAndGlyphs">0.78</text>
<text x="103.4" y="468" fill="#fff" textLength="22.3" lengthAdjust="spacingAndGlyphs">0.78</text>
<text x="138.7" y="468" fill="#fff" textLength="22.3" lengthAdjust="spacingAndGlyphs">0.79</text>
<text x="173.9" y="468" fill="#fff" textLength="22.3" lengthAdjust="spacingAndGlyphs">0.88</text>
<text x="209.2" y="468" fill="#fff" textLength="22.3" lengthAdjust="spacingAndGlyphs">1.00</text>
<text x="244.5" y="468" fill="#fff" textLength="22.3" lengthAdjust="spacingAndGlyphs">0.90</text>
<text x="68.1" y="504" fill="#fff" textLength="22.3" lengthAdjust="spacingAndGlyphs">0.71</text>
<text x="103.4" y="504" fill="#fff" textLength="22.3" lengthAdjust="spacingAndGlyphs">0.73</text>
<text x="138.7" y="504" fill="#fff" textLength="22.3" lengthAdjust="spacingAndGlyphs">0.74</text>
<text x="173.9" y="504" fill="#fff" textLength="22.3" lengthAdjust="spacingAndGlyphs">0.82</text>
<text x="209.2" y="504" fill="#fff" textLength="22.3" lengthAdjust="spacingAndGlyphs">0.90</text>
<text x="244.5" y="504" fill="#fff" textLength="22.3" lengthAdjust="spacingAndGlyphs">1.00</text>
</g>
<rect x="50.5" y="306.9" width="211.60000000000002" height="211.10000000000002" fill="none" stroke="#262626" stroke-width="0.9"/>
<line x1="46.9" y1="324.5" x2="50.5" y2="324.5" stroke="#262626" stroke-width="0.9"/>
<line x1="68.1" y1="518.0" x2="68.1" y2="521.6" stroke="#262626" stroke-width="0.9"/>
<text x="44.1" y="328" font-size="8.3" text-anchor="end" textLength="29.8" lengthAdjust="spacingAndGlyphs">Period 1</text>
<text x="0" y="0" font-size="8.3" textLength="29.8" lengthAdjust="spacingAndGlyphs" transform="translate(74.2 554.9) rotate(-90)">Period 1</text>
<line x1="46.9" y1="359.7" x2="50.5" y2="359.7" stroke="#262626" stroke-width="0.9"/>
<line x1="103.4" y1="518.0" x2="103.4" y2="521.6" stroke="#262626" stroke-width="0.9"/>
<text x="44.1" y="363" font-size="8.3" text-anchor="end" textLength="29.8" lengthAdjust="spacingAndGlyphs">Period 2</text>
<text x="0" y="0" font-size="8.3" textLength="29.8" lengthAdjust="spacingAndGlyphs" transform="translate(109.5 554.9) rotate(-90)">Period 2</text>
<line x1="46.9" y1="394.9" x2="50.5" y2="394.9" stroke="#262626" stroke-width="0.9"/>
<line x1="138.7" y1="518.0" x2="138.7" y2="521.6" stroke="#262626" stroke-width="0.9"/>
<text x="44.1" y="398" font-size="8.3" text-anchor="end" textLength="29.8" lengthAdjust="spacingAndGlyphs">Period 3</text>
<text x="0" y="0" font-size="8.3" textLength="29.8" lengthAdjust="spacingAndGlyphs" transform="translate(144.8 554.9) rotate(-90)">Period 3</text>
<line x1="46.9" y1="430.0" x2="50.5" y2="430.0" stroke="#262626" stroke-width="0.9"/>
<line x1="173.9" y1="518.0" x2="173.9" y2="521.6" stroke="#262626" stroke-width="0.9"/>
<text x="44.1" y="434" font-size="8.3" text-anchor="end" textLength="29.8" lengthAdjust="spacingAndGlyphs">Period 4</text>
<text x="0" y="0" font-size="8.3" textLength="29.8" lengthAdjust="spacingAndGlyphs" transform="translate(180.0 554.9) rotate(-90)">Period 4</text>
<line x1="46.9" y1="465.2" x2="50.5" y2="465.2" stroke="#262626" stroke-width="0.9"/>
<line x1="209.2" y1="518.0" x2="209.2" y2="521.6" stroke="#262626" stroke-width="0.9"/>
<text x="44.1" y="469" font-size="8.3" text-anchor="end" textLength="29.8" lengthAdjust="spacingAndGlyphs">Period 5</text>
<text x="0" y="0" font-size="8.3" textLength="29.8" lengthAdjust="spacingAndGlyphs" transform="translate(215.3 554.9) rotate(-90)">Period 5</text>
<line x1="46.9" y1="500.4" x2="50.5" y2="500.4" stroke="#262626" stroke-width="0.9"/>
<line x1="244.5" y1="518.0" x2="244.5" y2="521.6" stroke="#262626" stroke-width="0.9"/>
<text x="44.1" y="504" font-size="8.3" text-anchor="end" textLength="29.8" lengthAdjust="spacingAndGlyphs">Period 6</text>
<text x="0" y="0" font-size="8.3" textLength="29.8" lengthAdjust="spacingAndGlyphs" transform="translate(250.6 554.9) rotate(-90)">Period 6</text>
<defs><linearGradient id="gc" x1="0" y1="1" x2="0" y2="0">
<stop offset="0.0000" stop-color="#f7fbff"/>
<stop offset="0.0312" stop-color="#f0f7fc"/>
<stop offset="0.0625" stop-color="#e9f3f9"/>
<stop offset="0.0938" stop-color="#e1eff7"/>
<stop offset="0.1250" stop-color="#d9ebf4"/>
<stop offset="0.1562" stop-color="#d1e6f2"/>
<stop offset="0.1875" stop-color="#c9e2ef"/>
<stop offset="0.2188" stop-color="#c0deec"/>
<stop offset="0.2500" stop-color="#b8daea"/>
<stop offset="0.2812" stop-color="#acd6e8"/>
<stop offset="0.3125" stop-color="#9fd2e5"/>
<stop offset="0.3438" stop-color="#92cee2"/>
<stop offset="0.3750" stop-color="#86c9e0"/>
<stop offset="0.4062" stop-color="#79c5de"/>
<stop offset="0.4375" stop-color="#6cc0db"/>
<stop offset="0.4688" stop-color="#5fbbd8"/>
<stop offset="0.5000" stop-color="#52b6d6"/>
<stop offset="0.5312" stop-color="#4aafd2"/>
<stop offset="0.5625" stop-color="#42a8cf"/>
<stop offset="0.5938" stop-color="#3ba0cc"/>
<stop offset="0.6250" stop-color="#3399c8"/>
<stop offset="0.6562" stop-color="#3092c4"/>
<stop offset="0.6875" stop-color="#2c8cc1"/>
<stop offset="0.7188" stop-color="#2886be"/>
<stop offset="0.7500" stop-color="#257fba"/>
<stop offset="0.7812" stop-color="#2375b3"/>
<stop offset="0.8125" stop-color="#206cac"/>
<stop offset="0.8438" stop-color="#1e62a6"/>
<stop offset="0.8750" stop-color="#1c589f"/>
<stop offset="0.9062" stop-color="#194e92"/>
<stop offset="0.9375" stop-color="#164485"/>
<stop offset="0.9688" stop-color="#133a78"/>
<stop offset="1.0000" stop-color="#10306b"/>
</linearGradient></defs>
<rect x="271.2" y="306.4" width="10.6" height="211.5" fill="url(#gc)" stroke="#111" stroke-width="0.9"/>
<line x1="281.8" y1="517.9" x2="284.9" y2="517.9" stroke="#262626" stroke-width="0.9"/>
<text x="288.5" y="522" font-size="11.1" textLength="24.0" lengthAdjust="spacingAndGlyphs">0.00</text>
<line x1="281.8" y1="465.0" x2="284.9" y2="465.0" stroke="#262626" stroke-width="0.9"/>
<text x="288.5" y="469" font-size="11.1" textLength="24.0" lengthAdjust="spacingAndGlyphs">0.25</text>
<line x1="281.8" y1="412.1" x2="284.9" y2="412.1" stroke="#262626" stroke-width="0.9"/>
<text x="288.5" y="416" font-size="11.1" textLength="24.0" lengthAdjust="spacingAndGlyphs">0.50</text>
<line x1="281.8" y1="359.3" x2="284.9" y2="359.3" stroke="#262626" stroke-width="0.9"/>
<text x="288.5" y="364" font-size="11.1" textLength="24.0" lengthAdjust="spacingAndGlyphs">0.75</text>
<line x1="281.8" y1="306.4" x2="284.9" y2="306.4" stroke="#262626" stroke-width="0.9"/>
<text x="288.5" y="311" font-size="11.1" textLength="24.0" lengthAdjust="spacingAndGlyphs">1.00</text>
<g shape-rendering="crispEdges">
<rect x="424.30" y="307.10" width="35.27" height="35.30" fill="#04531c"/>
<rect x="459.27" y="307.10" width="35.27" height="35.30" fill="#0c8a42"/>
<rect x="494.23" y="307.10" width="35.27" height="35.30" fill="#10944b"/>
<rect x="529.20" y="307.10" width="35.27" height="35.30" fill="#22b661"/>
<rect x="564.17" y="307.10" width="35.27" height="35.30" fill="#3fd174"/>
<rect x="599.13" y="307.10" width="35.27" height="35.30" fill="#85e998"/>
<rect x="424.30" y="342.10" width="35.27" height="35.30" fill="#0c8a42"/>
<rect x="459.27" y="342.10" width="35.27" height="35.30" fill="#04531c"/>
<rect x="494.23" y="342.10" width="35.27" height="35.30" fill="#0b8740"/>
<rect x="529.20" y="342.10" width="35.27" height="35.30" fill="#23b863"/>
<rect x="564.17" y="342.10" width="35.27" height="35.30" fill="#42d375"/>
<rect x="599.13" y="342.10" width="35.27" height="35.30" fill="#6ce38b"/>
<rect x="424.30" y="377.10" width="35.27" height="35.30" fill="#10944b"/>
<rect x="459.27" y="377.10" width="35.27" height="35.30" fill="#0b8740"/>
<rect x="494.23" y="377.10" width="35.27" height="35.30" fill="#04531c"/>
<rect x="529.20" y="377.10" width="35.27" height="35.30" fill="#1fb15f"/>
<rect x="564.17" y="377.10" width="35.27" height="35.30" fill="#3ccf72"/>
<rect x="599.13" y="377.10" width="35.27" height="35.30" fill="#67e189"/>
<rect x="424.30" y="412.10" width="35.27" height="35.30" fill="#22b661"/>
<rect x="459.27" y="412.10" width="35.27" height="35.30" fill="#23b863"/>
<rect x="494.23" y="412.10" width="35.27" height="35.30" fill="#1fb15f"/>
<rect x="529.20" y="412.10" width="35.27" height="35.30" fill="#04531c"/>
<rect x="564.17" y="412.10" width="35.27" height="35.30" fill="#19a75a"/>
<rect x="599.13" y="412.10" width="35.27" height="35.30" fill="#33c86d"/>
<rect x="424.30" y="447.10" width="35.27" height="35.30" fill="#3fd174"/>
<rect x="459.27" y="447.10" width="35.27" height="35.30" fill="#42d375"/>
<rect x="494.23" y="447.10" width="35.27" height="35.30" fill="#3ccf72"/>
<rect x="529.20" y="447.10" width="35.27" height="35.30" fill="#19a75a"/>
<rect x="564.17" y="447.10" width="35.27" height="35.30" fill="#04531c"/>
<rect x="599.13" y="447.10" width="35.27" height="35.30" fill="#16a257"/>
<rect x="424.30" y="482.10" width="35.27" height="35.30" fill="#85e998"/>
<rect x="459.27" y="482.10" width="35.27" height="35.30" fill="#6ce38b"/>
<rect x="494.23" y="482.10" width="35.27" height="35.30" fill="#67e189"/>
<rect x="529.20" y="482.10" width="35.27" height="35.30" fill="#33c86d"/>
<rect x="564.17" y="482.10" width="35.27" height="35.30" fill="#16a257"/>
<rect x="599.13" y="482.10" width="35.27" height="35.30" fill="#04531c"/>
</g>
<g font-weight="bold" font-size="10.1" text-anchor="middle">
<text x="441.8" y="328" fill="#fff" textLength="22.3" lengthAdjust="spacingAndGlyphs">1.00</text>
<text x="476.8" y="328" fill="#fff" textLength="22.3" lengthAdjust="spacingAndGlyphs">0.84</text>
<text x="511.7" y="328" fill="#fff" textLength="22.3" lengthAdjust="spacingAndGlyphs">0.80</text>
<text x="546.7" y="328" fill="#fff" textLength="22.3" lengthAdjust="spacingAndGlyphs">0.67</text>
<text x="581.7" y="328" fill="#000" textLength="22.3" lengthAdjust="spacingAndGlyphs">0.55</text>
<text x="616.6" y="328" fill="#000" textLength="22.3" lengthAdjust="spacingAndGlyphs">0.39</text>
<text x="441.8" y="362" fill="#fff" textLength="22.3" lengthAdjust="spacingAndGlyphs">0.84</text>
<text x="476.8" y="362" fill="#fff" textLength="22.3" lengthAdjust="spacingAndGlyphs">1.00</text>
<text x="511.7" y="362" fill="#fff" textLength="22.3" lengthAdjust="spacingAndGlyphs">0.85</text>
<text x="546.7" y="362" fill="#fff" textLength="22.3" lengthAdjust="spacingAndGlyphs">0.66</text>
<text x="581.7" y="362" fill="#000" textLength="22.3" lengthAdjust="spacingAndGlyphs">0.54</text>
<text x="616.6" y="362" fill="#000" textLength="22.3" lengthAdjust="spacingAndGlyphs">0.44</text>
<text x="441.8" y="398" fill="#fff" textLength="22.3" lengthAdjust="spacingAndGlyphs">0.80</text>
<text x="476.8" y="398" fill="#fff" textLength="22.3" lengthAdjust="spacingAndGlyphs">0.85</text>
<text x="511.7" y="398" fill="#fff" textLength="22.3" lengthAdjust="spacingAndGlyphs">1.00</text>
<text x="546.7" y="398" fill="#fff" textLength="22.3" lengthAdjust="spacingAndGlyphs">0.69</text>
<text x="581.7" y="398" fill="#000" textLength="22.3" lengthAdjust="spacingAndGlyphs">0.56</text>
<text x="616.6" y="398" fill="#000" textLength="22.3" lengthAdjust="spacingAndGlyphs">0.45</text>
<text x="441.8" y="432" fill="#fff" textLength="22.3" lengthAdjust="spacingAndGlyphs">0.67</text>
<text x="476.8" y="432" fill="#fff" textLength="22.3" lengthAdjust="spacingAndGlyphs">0.66</text>
<text x="511.7" y="432" fill="#fff" textLength="22.3" lengthAdjust="spacingAndGlyphs">0.69</text>
<text x="546.7" y="432" fill="#fff" textLength="22.3" lengthAdjust="spacingAndGlyphs">1.00</text>
<text x="581.7" y="432" fill="#fff" textLength="22.3" lengthAdjust="spacingAndGlyphs">0.73</text>
<text x="616.6" y="432" fill="#000" textLength="22.3" lengthAdjust="spacingAndGlyphs">0.59</text>
<text x="441.8" y="468" fill="#000" textLength="22.3" lengthAdjust="spacingAndGlyphs">0.55</text>
<text x="476.8" y="468" fill="#000" textLength="22.3" lengthAdjust="spacingAndGlyphs">0.54</text>
<text x="511.7" y="468" fill="#000" textLength="22.3" lengthAdjust="spacingAndGlyphs">0.56</text>
<text x="546.7" y="468" fill="#fff" textLength="22.3" lengthAdjust="spacingAndGlyphs">0.73</text>
<text x="581.7" y="468" fill="#fff" textLength="22.3" lengthAdjust="spacingAndGlyphs">1.00</text>
<text x="616.6" y="468" fill="#fff" textLength="22.3" lengthAdjust="spacingAndGlyphs">0.75</text>
<text x="441.8" y="502" fill="#000" textLength="22.3" lengthAdjust="spacingAndGlyphs">0.39</text>
<text x="476.8" y="502" fill="#000" textLength="22.3" lengthAdjust="spacingAndGlyphs">0.44</text>
<text x="511.7" y="502" fill="#000" textLength="22.3" lengthAdjust="spacingAndGlyphs">0.45</text>
<text x="546.7" y="502" fill="#000" textLength="22.3" lengthAdjust="spacingAndGlyphs">0.59</text>
<text x="581.7" y="502" fill="#fff" textLength="22.3" lengthAdjust="spacingAndGlyphs">0.75</text>
<text x="616.6" y="502" fill="#fff" textLength="22.3" lengthAdjust="spacingAndGlyphs">1.00</text>
</g>
<rect x="424.3" y="307.1" width="209.8" height="210.0" fill="none" stroke="#262626" stroke-width="0.9"/>
<line x1="420.7" y1="324.6" x2="424.3" y2="324.6" stroke="#262626" stroke-width="0.9"/>
<line x1="441.8" y1="517.1" x2="441.8" y2="520.7" stroke="#262626" stroke-width="0.9"/>
<text x="416.7" y="328" font-size="8.3" text-anchor="end" textLength="29.8" lengthAdjust="spacingAndGlyphs">Period 1</text>
<text x="0" y="0" font-size="8.3" textLength="29.8" lengthAdjust="spacingAndGlyphs" transform="translate(447.9 554.0) rotate(-90)">Period 1</text>
<line x1="420.7" y1="359.6" x2="424.3" y2="359.6" stroke="#262626" stroke-width="0.9"/>
<line x1="476.8" y1="517.1" x2="476.8" y2="520.7" stroke="#262626" stroke-width="0.9"/>
<text x="416.7" y="363" font-size="8.3" text-anchor="end" textLength="29.8" lengthAdjust="spacingAndGlyphs">Period 2</text>
<text x="0" y="0" font-size="8.3" textLength="29.8" lengthAdjust="spacingAndGlyphs" transform="translate(482.9 554.0) rotate(-90)">Period 2</text>
<line x1="420.7" y1="394.6" x2="424.3" y2="394.6" stroke="#262626" stroke-width="0.9"/>
<line x1="511.7" y1="517.1" x2="511.7" y2="520.7" stroke="#262626" stroke-width="0.9"/>
<text x="416.7" y="398" font-size="8.3" text-anchor="end" textLength="29.8" lengthAdjust="spacingAndGlyphs">Period 3</text>
<text x="0" y="0" font-size="8.3" textLength="29.8" lengthAdjust="spacingAndGlyphs" transform="translate(517.8 554.0) rotate(-90)">Period 3</text>
<line x1="420.7" y1="429.6" x2="424.3" y2="429.6" stroke="#262626" stroke-width="0.9"/>
<line x1="546.7" y1="517.1" x2="546.7" y2="520.7" stroke="#262626" stroke-width="0.9"/>
<text x="416.7" y="433" font-size="8.3" text-anchor="end" textLength="29.8" lengthAdjust="spacingAndGlyphs">Period 4</text>
<text x="0" y="0" font-size="8.3" textLength="29.8" lengthAdjust="spacingAndGlyphs" transform="translate(552.8 554.0) rotate(-90)">Period 4</text>
<line x1="420.7" y1="464.6" x2="424.3" y2="464.6" stroke="#262626" stroke-width="0.9"/>
<line x1="581.7" y1="517.1" x2="581.7" y2="520.7" stroke="#262626" stroke-width="0.9"/>
<text x="416.7" y="468" font-size="8.3" text-anchor="end" textLength="29.8" lengthAdjust="spacingAndGlyphs">Period 5</text>
<text x="0" y="0" font-size="8.3" textLength="29.8" lengthAdjust="spacingAndGlyphs" transform="translate(587.8 554.0) rotate(-90)">Period 5</text>
<line x1="420.7" y1="499.6" x2="424.3" y2="499.6" stroke="#262626" stroke-width="0.9"/>
<line x1="616.6" y1="517.1" x2="616.6" y2="520.7" stroke="#262626" stroke-width="0.9"/>
<text x="416.7" y="503" font-size="8.3" text-anchor="end" textLength="29.8" lengthAdjust="spacingAndGlyphs">Period 6</text>
<text x="0" y="0" font-size="8.3" textLength="29.8" lengthAdjust="spacingAndGlyphs" transform="translate(622.7 554.0) rotate(-90)">Period 6</text>
<defs><linearGradient id="gd" x1="0" y1="1" x2="0" y2="0">
<stop offset="0.0000" stop-color="#f7fff7"/>
<stop offset="0.0312" stop-color="#f0fef1"/>
<stop offset="0.0625" stop-color="#eafcea"/>
<stop offset="0.0938" stop-color="#e3fae4"/>
<stop offset="0.1250" stop-color="#dcf9de"/>
<stop offset="0.1562" stop-color="#d3f7d6"/>
<stop offset="0.1875" stop-color="#caf6ce"/>
<stop offset="0.2188" stop-color="#c1f4c6"/>
<stop offset="0.2500" stop-color="#b8f2be"/>
<stop offset="0.2812" stop-color="#adf0b6"/>
<stop offset="0.3125" stop-color="#a2eead"/>
<stop offset="0.3438" stop-color="#98eda4"/>
<stop offset="0.3750" stop-color="#8deb9c"/>
<stop offset="0.4062" stop-color="#7de794"/>
<stop offset="0.4375" stop-color="#6ee38c"/>
<stop offset="0.4688" stop-color="#5edf84"/>
<stop offset="0.5000" stop-color="#4edb7c"/>
<stop offset="0.5312" stop-color="#44d477"/>
<stop offset="0.5625" stop-color="#3bce72"/>
<stop offset="0.5938" stop-color="#32c86c"/>
<stop offset="0.6250" stop-color="#28c167"/>
<stop offset="0.6562" stop-color="#24b963"/>
<stop offset="0.6875" stop-color="#1fb25f"/>
<stop offset="0.7188" stop-color="#1aaa5b"/>
<stop offset="0.7500" stop-color="#16a257"/>
<stop offset="0.7812" stop-color="#129a50"/>
<stop offset="0.8125" stop-color="#0f9148"/>
<stop offset="0.8438" stop-color="#0c8841"/>
<stop offset="0.8750" stop-color="#08803a"/>
<stop offset="0.9062" stop-color="#077532"/>
<stop offset="0.9375" stop-color="#066a2b"/>
<stop offset="0.9688" stop-color="#055e24"/>
<stop offset="1.0000" stop-color="#04531c"/>
</linearGradient></defs>
<rect x="643.1" y="306.6" width="10.6" height="211.0" fill="url(#gd)" stroke="#111" stroke-width="0.9"/>
<line x1="653.7" y1="517.6" x2="656.8000000000001" y2="517.6" stroke="#262626" stroke-width="0.9"/>
<text x="660.4" y="522" font-size="11.1" textLength="24.0" lengthAdjust="spacingAndGlyphs">0.00</text>
<line x1="653.7" y1="464.9" x2="656.8000000000001" y2="464.9" stroke="#262626" stroke-width="0.9"/>
<text x="660.4" y="469" font-size="11.1" textLength="24.0" lengthAdjust="spacingAndGlyphs">0.25</text>
<line x1="653.7" y1="412.1" x2="656.8000000000001" y2="412.1" stroke="#262626" stroke-width="0.9"/>
<text x="660.4" y="416" font-size="11.1" textLength="24.0" lengthAdjust="spacingAndGlyphs">0.50</text>
<line x1="653.7" y1="359.4" x2="656.8000000000001" y2="359.4" stroke="#262626" stroke-width="0.9"/>
<text x="660.4" y="364" font-size="11.1" textLength="24.0" lengthAdjust="spacingAndGlyphs">0.75</text>
<line x1="653.7" y1="306.6" x2="656.8000000000001" y2="306.6" stroke="#262626" stroke-width="0.9"/>
<text x="660.4" y="311" font-size="11.1" textLength="24.0" lengthAdjust="spacingAndGlyphs">1.00</text>
</svg>
</body></html>
